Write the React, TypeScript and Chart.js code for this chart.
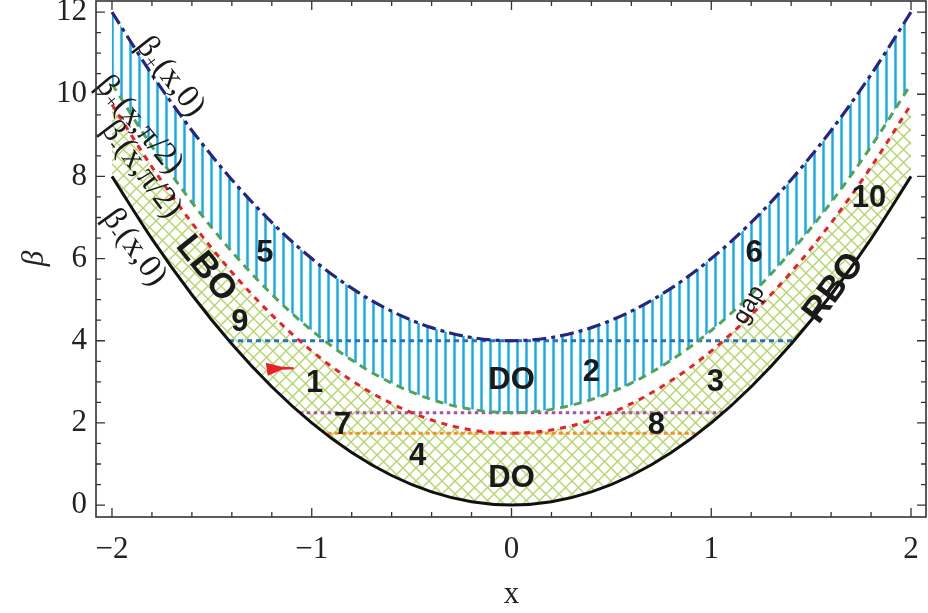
import React, { useEffect, useRef } from "react";
import { Chart, registerables } from "chart.js";
Chart.register(...registerables);

// ---- data ----
const xValues = [-2, -1.8, -1.6, -1.4, -1.2, -1, -0.8, -0.6, -0.4, -0.2, 0, 0.2, 0.4, 0.6, 0.8, 1, 1.2, 1.4, 1.6, 1.8, 2];
const betaPlus0 = [12, 10.48, 9.12, 7.92, 6.88, 6, 5.28, 4.72, 4.32, 4.08, 4, 4.08, 4.32, 4.72, 5.28, 6, 6.88, 7.92, 9.12, 10.48, 12];
const betaPlusHalfPi = [10.25, 8.73, 7.37, 6.17, 5.13, 4.25, 3.53, 2.97, 2.57, 2.33, 2.25, 2.33, 2.57, 2.97, 3.53, 4.25, 5.13, 6.17, 7.37, 8.73, 10.25];
const betaMinusHalfPi = [9.75, 8.23, 6.87, 5.67, 4.63, 3.75, 3.03, 2.47, 2.07, 1.83, 1.75, 1.83, 2.07, 2.47, 3.03, 3.75, 4.63, 5.67, 6.87, 8.23, 9.75];
const betaMinus0 = [8, 6.48, 5.12, 3.92, 2.88, 2, 1.28, 0.72, 0.32, 0.08, 0, 0.08, 0.32, 0.72, 1.28, 2, 2.88, 3.92, 5.12, 6.48, 8];

const line4X = [-1.414, 1.414];
const line4Y = [4, 4];
const line225X = [-1.06, 1.06];
const line225Y = [2.25, 2.25];
const line175X = [-0.92, 0.92];
const line175Y = [1.75, 1.75];

const xTickValues = [-2, -1, 0, 1, 2];
const xTickLabels = ["\u22122", "\u22121", "0", "1", "2"];
const yTickValues = [0, 2, 4, 6, 8, 10, 12];
const yTickLabels = ["0", "2", "4", "6", "8", "10", "12"];

const regionLabels = [
  { text: "5", x: -1.235, y: 6.13 },
  { text: "6", x: 1.215, y: 6.13 },
  { text: "9", x: -1.36, y: 4.45 },
  { text: "1", x: -0.985, y: 2.97 },
  { text: "DO", x: 0, y: 3.04 },
  { text: "2", x: 0.4, y: 3.24 },
  { text: "3", x: 1.02, y: 2.99 },
  { text: "7", x: -0.845, y: 1.95 },
  { text: "8", x: 0.725, y: 1.95 },
  { text: "4", x: -0.47, y: 1.19 },
  { text: "DO", x: 0, y: 0.66 },
  { text: "10", x: 1.79, y: 7.47 },
];

const curveLabels = [
  { sub: "+", rest: "(x,0)", x: -1.7, y: 10.46, deg: 52 },
  { sub: "+", rest: "(x,\u03c0/2)", x: -1.855, y: 9.29, deg: 50 },
  { sub: "-", rest: "(x,\u03c0/2)", x: -1.845, y: 8.2, deg: 53 },
  { sub: "-", rest: "(x,0)", x: -1.88, y: 6.3, deg: 54 },
];

function pts(xs: number[], ys: number[]) {
  return xs.map((x, i) => ({ x, y: ys[i] }));
}

function makeBluePattern(): CanvasPattern | string {
  const c = document.createElement("canvas");
  c.width = 9;
  c.height = 9;
  const g = c.getContext("2d");
  if (!g) return "#1cb0ec";
  g.fillStyle = "#7fd4f7";
  g.fillRect(3, 0, 3, 9);
  g.fillStyle = "#14aaea";
  g.fillRect(3.6, 0, 1.8, 9);
  return g.createPattern(c, "repeat") || "#1cb0ec";
}

function makeGreenPattern(): CanvasPattern | string {
  const s = 13;
  const c = document.createElement("canvas");
  c.width = s;
  c.height = s;
  const g = c.getContext("2d");
  if (!g) return "#b8d97a";
  g.strokeStyle = "#b3d66e";
  g.lineWidth = 1.4;
  for (let k = -1; k <= 1; k++) {
    g.beginPath();
    g.moveTo(k * s, 0);
    g.lineTo(k * s + s, s);
    g.stroke();
    g.beginPath();
    g.moveTo(k * s, s);
    g.lineTo(k * s + s, 0);
    g.stroke();
  }
  return g.createPattern(c, "repeat") || "#b8d97a";
}

const SERIF = '"Liberation Serif", "Times New Roman", Times, serif';
const SANS = '"Liberation Sans", Arial, Helvetica, sans-serif';

const decorPlugin = {
  id: "decor",
  afterDatasetsDraw(chart: any) {
    const { ctx, chartArea: a, scales } = chart;
    const xs = scales.x;
    const ys = scales.y;
    ctx.save();

    // region labels
    ctx.fillStyle = "#1a1a1a";
    ctx.textAlign = "center";
    ctx.textBaseline = "middle";
    ctx.font = `bold 31px ${SANS}`;
    for (const l of regionLabels) {
      ctx.fillText(l.text, xs.getPixelForValue(l.x), ys.getPixelForValue(l.y));
    }

    // rotated labels
    const rot = (text: string, x: number, y: number, deg: number, font: string) => {
      ctx.save();
      ctx.translate(xs.getPixelForValue(x), ys.getPixelForValue(y));
      ctx.rotate((deg * Math.PI) / 180);
      ctx.font = font;
      ctx.fillText(text, 0, 0);
      ctx.restore();
    };
    rot("LBO", -1.53, 5.75, 51, `bold 35px ${SANS}`);
    rot("RBO", 1.615, 5.28, -53, `bold 35px ${SANS}`);
    rot("gap", 1.19, 4.87, -60, `24px ${SANS}`);

    // curve labels with subscripts
    for (const c of curveLabels) {
      const size = 33;
      const main = `${size}px ${SERIF}`;
      const small = `${Math.round(size * 0.6)}px ${SERIF}`;
      ctx.font = main;
      const w1 = ctx.measureText("\u03b2").width;
      const w3 = ctx.measureText(c.rest).width;
      ctx.font = small;
      const w2 = ctx.measureText(c.sub).width;
      const W = w1 + w2 + w3;
      ctx.save();
      ctx.translate(xs.getPixelForValue(c.x), ys.getPixelForValue(c.y));
      ctx.rotate((c.deg * Math.PI) / 180);
      ctx.textAlign = "left";
      ctx.textBaseline = "alphabetic";
      let x0 = -W / 2;
      ctx.font = main;
      ctx.fillText("\u03b2", x0, size * 0.33);
      x0 += w1;
      ctx.font = small;
      ctx.fillText(c.sub, x0, size * 0.45);
      x0 += w2;
      ctx.font = main;
      ctx.fillText(c.rest, x0, size * 0.33);
      ctx.restore();
    }

    // red marker
    {
      const px = xs.getPixelForValue(-1.16);
      const py = ys.getPixelForValue(3.32);
      ctx.fillStyle = "#e8202a";
      ctx.beginPath();
      ctx.moveTo(px - 14, py - 6);
      ctx.lineTo(px - 12, py + 7);
      ctx.lineTo(px + 2, py + 1);
      ctx.lineTo(px + 14, py + 0.5);
      ctx.lineTo(px + 14, py - 1.5);
      ctx.lineTo(px + 2, py - 2);
      ctx.closePath();
      ctx.fill();
    }

    // frame
    ctx.strokeStyle = "#333";
    ctx.lineWidth = 1.6;
    ctx.strokeRect(a.left, a.top, a.right - a.left, a.bottom - a.top);

    // ticks (inward, all four sides)
    ctx.lineWidth = 1.3;
    ctx.beginPath();
    for (let i = -11; i <= 11; i++) {
      const v = i * 0.2;
      const p = xs.getPixelForValue(v);
      if (p < a.left || p > a.right) continue;
      const len = i % 5 === 0 ? 9 : 5;
      ctx.moveTo(p, a.bottom);
      ctx.lineTo(p, a.bottom - len);
      ctx.moveTo(p, a.top);
      ctx.lineTo(p, a.top + len);
    }
    for (let i = 0; i <= 24; i++) {
      const v = i * 0.5;
      const p = ys.getPixelForValue(v);
      if (p < a.top - 0.5 || p > a.bottom) continue;
      const len = i % 4 === 0 ? 9 : 5;
      ctx.moveTo(a.left, p);
      ctx.lineTo(a.left + len, p);
      ctx.moveTo(a.right, p);
      ctx.lineTo(a.right - len, p);
    }
    ctx.stroke();

    // tick labels
    ctx.fillStyle = "#222";
    ctx.font = `31px ${SERIF}`;
    ctx.textBaseline = "middle";
    ctx.textAlign = "center";
    xTickValues.forEach((v, i) => {
      ctx.fillText(xTickLabels[i], xs.getPixelForValue(v), a.bottom + 33);
    });
    ctx.textAlign = "right";
    yTickValues.forEach((v, i) => {
      ctx.fillText(yTickLabels[i], a.left - 9, ys.getPixelForValue(v));
    });

    // axis titles
    ctx.textAlign = "center";
    ctx.fillText("x", (a.left + a.right) / 2 + 0.5, a.bottom + 78);
    ctx.save();
    ctx.translate(35, ys.getPixelForValue(6));
    ctx.rotate(-Math.PI / 2);
    ctx.font = `italic 31px ${SERIF}`;
    ctx.fillText("\u03b2", 0, 0);
    ctx.restore();

    ctx.restore();
  },
};

export default function App() {
  const ref = useRef<HTMLCanvasElement | null>(null);
  useEffect(() => {
    const canvas = ref.current;
    if (!canvas) return;
    const blue = makeBluePattern();
    const green = makeGreenPattern();
    const common = { pointRadius: 0, pointHoverRadius: 0, cubicInterpolationMode: "monotone" as const };
    const chart = new Chart(canvas, {
      type: "line",
      data: {
        datasets: [
          {
            data: pts(xValues, betaPlus0),
            borderColor: "#26267f",
            borderWidth: 3.2,
            borderDash: [14, 5, 4, 5],
            backgroundColor: blue as any,
            fill: "+1",
            ...common,
          },
          {
            data: pts(xValues, betaPlusHalfPi),
            borderColor: "#4fa557",
            borderWidth: 3,
            borderDash: [8, 6],
            fill: false,
            ...common,
          },
          {
            data: pts(xValues, betaMinusHalfPi),
            borderColor: "#e8202a",
            borderWidth: 3,
            borderDash: [6, 6],
            backgroundColor: green as any,
            fill: "+1",
            ...common,
          },
          {
            data: pts(xValues, betaMinus0),
            borderColor: "#111",
            borderWidth: 3,
            fill: false,
            ...common,
          },
          {
            data: pts(line4X, line4Y),
            borderColor: "#2474c0",
            borderWidth: 3,
            borderDash: [5, 4],
            fill: false,
            pointRadius: 0,
          },
          {
            data: pts(line225X, line225Y),
            borderColor: "#a650a8",
            borderWidth: 3,
            borderDash: [3.5, 3.5],
            fill: false,
            pointRadius: 0,
          },
          {
            data: pts(line175X, line175Y),
            borderColor: "#f5901f",
            borderWidth: 3,
            borderDash: [4, 3],
            fill: false,
            pointRadius: 0,
          },
        ],
      },
      options: {
        animation: false,
        responsive: false,
        events: [],
        layout: { padding: { top: 1, right: 2, left: 0, bottom: 0 } },
        plugins: {
          legend: { display: false },
          tooltip: { enabled: false },
          filler: { propagate: false, drawTime: "beforeDatasetsDraw" },
        },
        scales: {
          x: {
            type: "linear",
            min: -2.08,
            max: 2.075,
            grid: { display: false },
            border: { display: false },
            ticks: { display: false },
            afterFit: (s: any) => {
              s.height = 96;
            },
          },
          y: {
            type: "linear",
            min: -0.29,
            max: 12.27,
            grid: { display: false },
            border: { display: false },
            ticks: { display: false },
            afterFit: (s: any) => {
              s.width = 96;
            },
          },
        },
      },
      plugins: [decorPlugin],
    });
    return () => chart.destroy();
  }, []);
  return (
    <div style={{ position: "absolute", left: 0, top: 0, width: 928, height: 613, background: "#fff" }}>
      <canvas ref={ref} width={928} height={613} />
    </div>
  );
}
